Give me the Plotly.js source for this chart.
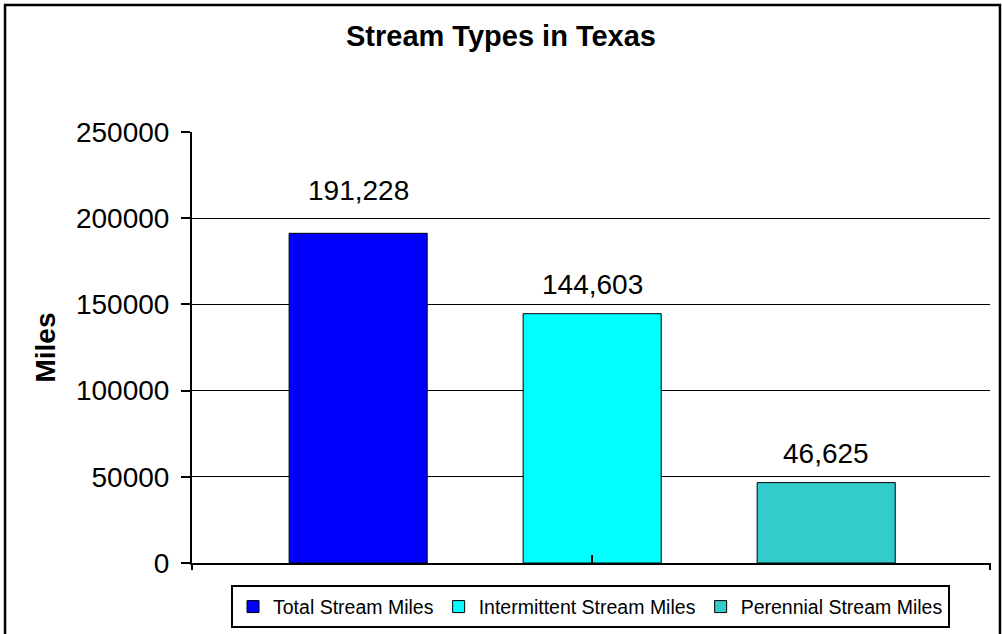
<!DOCTYPE html>
<html>
<head>
<meta charset="utf-8">
<script src="https://cdn.plot.ly/plotly-3.0.1.min.js"></script>
<style>
html,body{margin:0;padding:0;background:#fff;}
#chart{width:1002px;height:634px;}
</style>
</head>
<body>
<div id="chart"></div>
<script>
// Data
const seriesNames = ["Total Stream Miles", "Intermittent Stream Miles", "Perennial Stream Miles"];
const seriesValues = [191228, 144603, 46625];
const seriesColors = ["#0000FF", "#00FFFF", "#33CCCC"];
const yTickVals = [0, 50000, 100000, 150000, 200000, 250000];
const yTickText = ["0", "50000", "100000", "150000", "200000", "250000"];
const labelShift = [43, 29, 29];

const FONT = "Liberation Sans, Arial, sans-serif";

const traces = seriesNames.map((n, i) => ({
  type: "bar",
  name: n,
  x: [n],
  y: [seriesValues[i]],
  marker: {color: seriesColors[i], line: {color: "#000", width: 1}},
  hoverinfo: "none"
}));

const annotations = seriesNames.map((n, i) => ({
  x: n, y: seriesValues[i], xref: "x", yref: "y",
  text: seriesValues[i].toLocaleString("en-US"),
  showarrow: false, yanchor: "middle", yshift: labelShift[i],
  font: {family: FONT, size: 28, color: "#000"}
}));

const layout = {
  width: 1002, height: 634,
  paper_bgcolor: "#fff", plot_bgcolor: "#fff",
  margin: {l: 192, r: 12, t: 132, b: 71, autoexpand: false},
  font: {family: FONT, color: "#000"},
  title: {text: "<b>Stream Types in Texas</b>", font: {family: FONT, size: 29, color: "#000"},
          x: 0.5, xref: "container", y: 0.944, yref: "container", yanchor: "middle"},
  barmode: "overlay",
  bargap: 0.41,
  showlegend: true,
  legend: {orientation: "h", x: 0.4994, xanchor: "center", y: -0.052, yanchor: "top",
           bordercolor: "#000", borderwidth: 2, font: {family: FONT, size: 19.5, color: "#000"},
           bgcolor: "#fff"},
  xaxis: {type: "category", range: [-0.71, 2.70], showticklabels: false,
          showline: true, linecolor: "#000", linewidth: 2,
          ticks: "inside", tickvals: [seriesNames[1]], ticklen: 8, tickwidth: 2, tickcolor: "#000",
          showgrid: false, zeroline: false, fixedrange: true},
  yaxis: {range: [0, 250000], tickvals: yTickVals, ticktext: yTickText,
          showline: true, linecolor: "#000", linewidth: 2,
          ticks: "outside", ticklen: 9, tickwidth: 2, tickcolor: "#000",
          ticklabelstandoff: 6,
          tickfont: {family: FONT, size: 28, color: "#000"},
          showgrid: true, gridcolor: "#000", gridwidth: 1, zeroline: false,
          title: {text: "<b>Miles</b>", font: {family: FONT, size: 28, color: "#000"}, standoff: 12},
          fixedrange: true},
  annotations: annotations,
  shapes: [
    {type: "line", xref: "paper", yref: "paper", x0: 0, x1: 0, y0: 0, y1: -0.016, line: {color: "#000", width: 2}},
    {type: "line", xref: "paper", yref: "paper", x0: 1, x1: 1, y0: 0, y1: -0.016, line: {color: "#000", width: 2}},
    {type: "rect", xref: "paper", yref: "paper", x0: -0.2343, x1: 1.0125, y0: -0.2, y1: 1.2947,
     line: {color: "#000", width: 2.5}, fillcolor: "rgba(0,0,0,0)", layer: "above"}
  ]
};

Plotly.newPlot("chart", traces, layout, {displayModeBar: false, staticPlot: true});
</script>
</body>
</html>
